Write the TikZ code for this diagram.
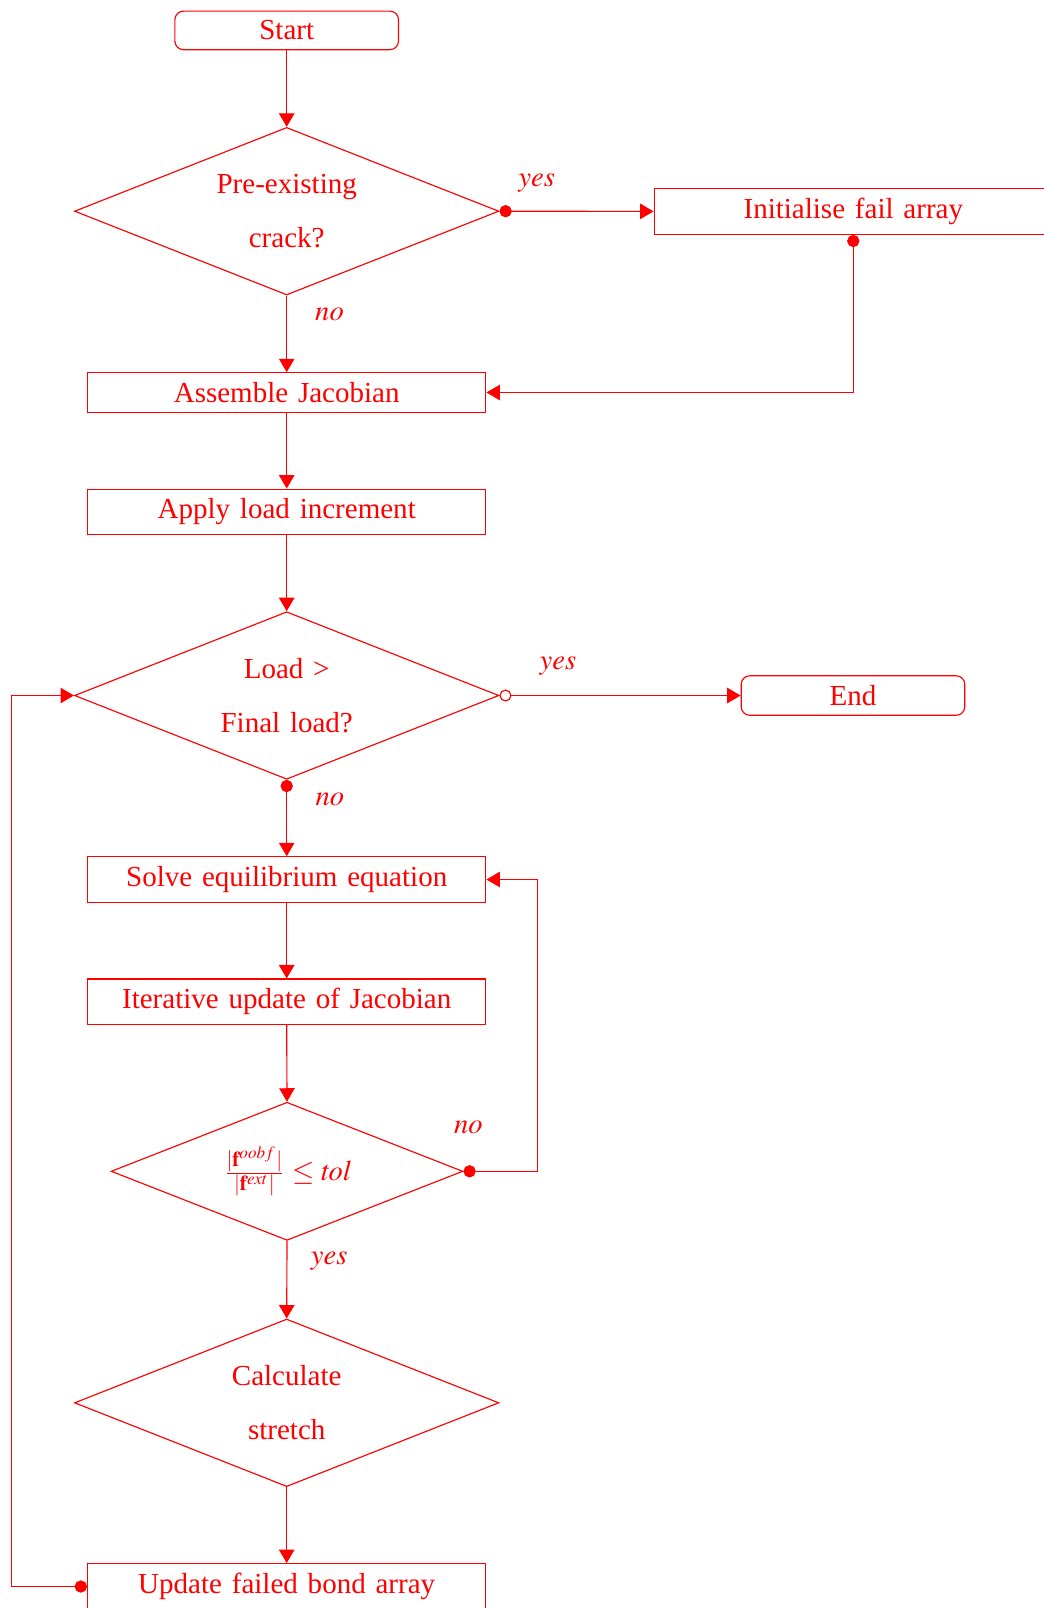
\documentclass[tikz,border=0pt]{standalone}
\usepackage{mathptmx}
\usepackage{fontspec}
\setmainfont{Liberation Serif}[WordSpace=1.35, Scale=1.015]
\usetikzlibrary{shapes.geometric,arrows.meta,calc}
\definecolor{fc}{RGB}{255,0,0}
\begin{document}
\begin{tikzpicture}[x=0.3497pt,y=-0.3497pt,color=fc,
  box/.style={draw, line width=0.4pt, rectangle, minimum width=139.3pt, inner sep=3.33pt},
  term/.style={draw, line width=0.4pt, rectangle, rounded corners=3pt, minimum width=78.2pt, inner sep=3.33pt},
  dec/.style={draw, line width=0.4pt, diamond, aspect=2.5, inner sep=0pt, minimum width=148.4pt, minimum height=58.6pt, align=center},
  conn/.style={draw, line width=0.4pt, -{Triangle[length=4.7pt,width=5.4pt]}},
  dotconn/.style={draw, line width=0.4pt, {Circle[length=4.3pt]}-{Triangle[length=4.7pt,width=5.4pt]}},
  odotconn/.style={draw, line width=0.4pt, {Circle[open,length=4.2pt]}-{Triangle[length=4.7pt,width=5.4pt]}},
  lbl/.style={anchor=base, inner sep=0pt}
]
\useasboundingbox (0,0) rectangle (1043,1608);

% nodes
\node[term] (start) at (286.7,30.4) {Start};
\node[dec] (d1) at (286.7,211.2) {Pre-existing\\[6.9pt]crack?};
\node[box] (init) at (853.3,211.4) {Initialise fail array};
\node[box] (assemble) at (286.7,392.5) {Assemble Jacobian};
\node[box] (apply) at (286.7,511.8) {Apply load increment};
\node[dec] (d2) at (286.7,695.5) {Load >\\[6.9pt]Final load?};
\node[term] (end) at (853,695.5) {End};
\node[box] (solve) at (286.7,879.5) {Solve equilibrium equation};
\node[box] (iter) at (286.7,1001.8) {Iterative update of Jacobian};
\node[dec, minimum width=123pt, minimum height=48.3pt] (d3) at (287,1171.3)
  {$\frac{|\mathbf{f}^{oobf}|}{|\mathbf{f}^{ext}|} \leq \mathit{tol}$};
\node[dec] (d4) at (286.7,1402.8) {Calculate\\[6.9pt]stretch};
\node[box] (update) at (286.7,1586.5) {Update failed bond array};

% helper coordinates
\coordinate (rx) at (537.7,0);
\coordinate (lx) at (11.7,0);

% connectors
\draw[conn] (start) -- (d1);
\draw[dotconn] (d1.east) -- (init.west);
\draw[conn] (d1.south) -- (assemble.north);
\draw[dotconn] (init.south) |- (assemble.east);
\draw[conn] (assemble) -- (apply);
\draw[conn] (apply.south) -- (d2.north);
\draw[odotconn] (d2.east) -- (end.west);
\draw[dotconn] (d2.south) -- (solve.north);
\draw[conn] (solve) -- (iter);
\draw[conn] (iter.south) -- (d3.north);
\draw[dotconn] (d3.east) -- (d3.east -| rx) |- (solve.east);
\draw[conn] (d3.south) -- (d4.north);
\draw[conn] (d4.south) -- (update.north);
\draw[dotconn] (update.west) -- (update.west -| lx) |- (d2.west);

% labels
\node[lbl] (lyes1) at (536.7,186.5) {$yes$};
\node[lbl] (lno1) at (329.5,320.9) {$no$};
\node[lbl] (lyes2) at (558,669.3) {$yes$};
\node[lbl] (lno2) at (329.8,805) {$no$};
\node[lbl] (lno3) at (468.3,1133.3) {$no$};
\node[lbl] (lyes3) at (329.2,1264.1) {$yes$};
\end{tikzpicture}
\end{document}
